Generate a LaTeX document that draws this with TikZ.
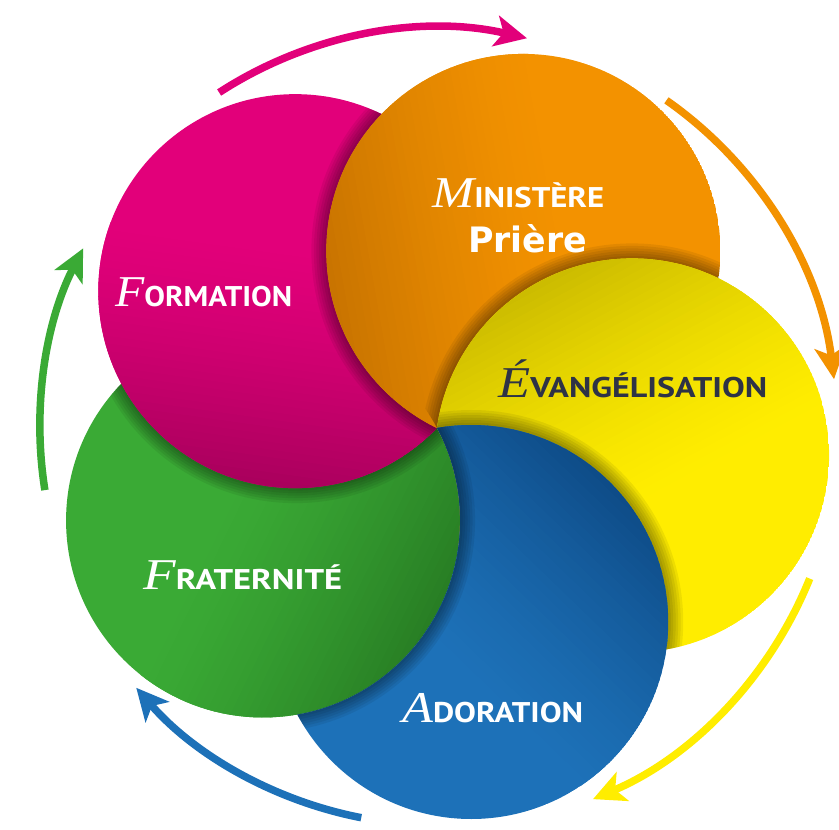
\documentclass[tikz,border=0pt]{standalone}
\usepackage{fontspec}
\usepackage{graphicx}
\usetikzlibrary{arrows.meta,calc}
\newfontfamily\initfont{Liberation Serif}
\newfontfamily\capfont{PT Sans}
\newfontfamily\prierefont{DejaVu Sans}
\definecolor{pinkC}{HTML}{E2007A}
\definecolor{pinkD}{HTML}{AA005D}
\definecolor{orangeC}{HTML}{F39200}
\definecolor{orangeD}{HTML}{C97400}
\definecolor{yellowC}{HTML}{FFED00}
\definecolor{yellowD}{HTML}{CCBC00}
\definecolor{blueC}{HTML}{1D71B8}
\definecolor{blueD}{HTML}{0E4C88}
\definecolor{greenC}{HTML}{3AAA35}
\definecolor{greenD}{HTML}{287E24}
\definecolor{navyT}{HTML}{2E3346}
\newcommand\shadedisc[4]{%
  \begin{scope}
    \clip (#1) circle[radius=197];
    \fill[#4] (#1) circle[radius=197];
    \begin{scope}[shift={(#1)}, rotate=#2]
      \foreach \i in {0,...,31} {
        \pgfmathsetmacro\p{100*(1-\i/32)^1.4}
        \fill[#3!\p!#4] ({-198+\i*7.5},-200) rectangle ({-198+(\i+1)*7.5+0.6},200);
      }
    \end{scope}
  \end{scope}}
\newcommand\castshadow[2]{%
  \begin{scope}
    \clip (#2) circle[radius=197];
    \foreach \k in {1,...,6} \fill[black, opacity=0.065] (#1) circle[radius=197+2.5*\k];
  \end{scope}}
\newsavebox\lblbox
\newcommand\fitto[2]{\sbox\lblbox{#2}\pgfmathsetmacro\sfac{#1/\wd\lblbox}\scalebox{\sfac}[1]{\usebox\lblbox}}
\newcommand\ini[1]{{\initfont\itshape\fontsize{44}{44}\selectfont #1}}
\newcommand\rest[1]{{\capfont\bfseries\fontsize{28.5}{28.5}\selectfont #1}}
\tikzset{
  arr/.style={line width=7.5pt, -{Stealth[length=32pt, width=31pt, inset=8pt]}},
  lbl/.style={anchor=base west, inner sep=0pt, text=white},
}
\begin{document}
\begin{tikzpicture}[x=1pt, y=1pt]
\useasboundingbox (0,0) rectangle (839,830);
\fill[white] (0,0) rectangle (839,830);
\coordinate (C) at (437,402);
\coordinate (cP) at ($(C)+(136:197)$);
\coordinate (cO) at ($(C)+(64:197)$);
\coordinate (cY) at ($(C)+(-8:197)$);
\coordinate (cB) at ($(C)+(280:197)$);
\coordinate (cG) at ($(C)+(208:197)$);
% discs, each over its predecessor (green over blue closes the cycle)
\shadedisc{cG}{154}{greenD}{greenC}
\castshadow{cP}{cG}
\shadedisc{cP}{82}{pinkD}{pinkC}
\castshadow{cO}{cP}
\shadedisc{cO}{10}{orangeD}{orangeC}
\begin{scope}[even odd rule]
  \clip (-50,-50) rectangle (900,900) (cG) circle[radius=197];
  \castshadow{cY}{cO}
  \shadedisc{cY}{-62}{yellowD}{yellowC}
  \castshadow{cB}{cY}
  \shadedisc{cB}{226}{blueD}{blueC}
  \castshadow{cG}{cB}
\end{scope}
% arrows
\coordinate (a1s) at ($(C)+(123:400)$);
\coordinate (a2s) at ($(C)+(55:400)$);
\coordinate (a3s) at ($(C)+(-22:402)$);
\coordinate (a4s) at ($(C)+(-101:397)$);
\coordinate (a5s) at ($(C)+(189:397)$);
\draw[arr, pinkC] (a1s) arc[start angle=123, end angle=77, radius=400];
\draw[arr, orangeC] (a2s) arc[start angle=55, end angle=7, radius=400];
\draw[arr, yellowC] (a3s) arc[start angle=-22, end angle=-67, radius=404];
\draw[arr, blueC] (a4s) arc[start angle=-101, end angle=-139, radius=399];
\draw[arr, greenC] (a5s) arc[start angle=189, end angle=153, radius=396];
% labels
\node[lbl] (tF) at (115,523) {\fitto{177}{\ini{F}\rest{ORMATION}}};
\node[lbl] (tM) at (432,622) {\fitto{172}{\ini{M}\rest{INISTÈRE}}};
\node[lbl] (tP) at (468,577) {\fitto{119}{\prierefont\bfseries\fontsize{35}{35}\selectfont Prière}};
\node[lbl, text=navyT] (tE) at (498,432) {\fitto{269}{\ini{É}\rest{VANGÉLISATION}}};
\node[lbl] (tR) at (143,240) {\fitto{199}{\ini{F}\rest{RATERNITÉ}}};
\node[lbl] (tA) at (402,107) {\fitto{181}{\ini{A}\rest{DORATION}}};
\end{tikzpicture}
\end{document}
